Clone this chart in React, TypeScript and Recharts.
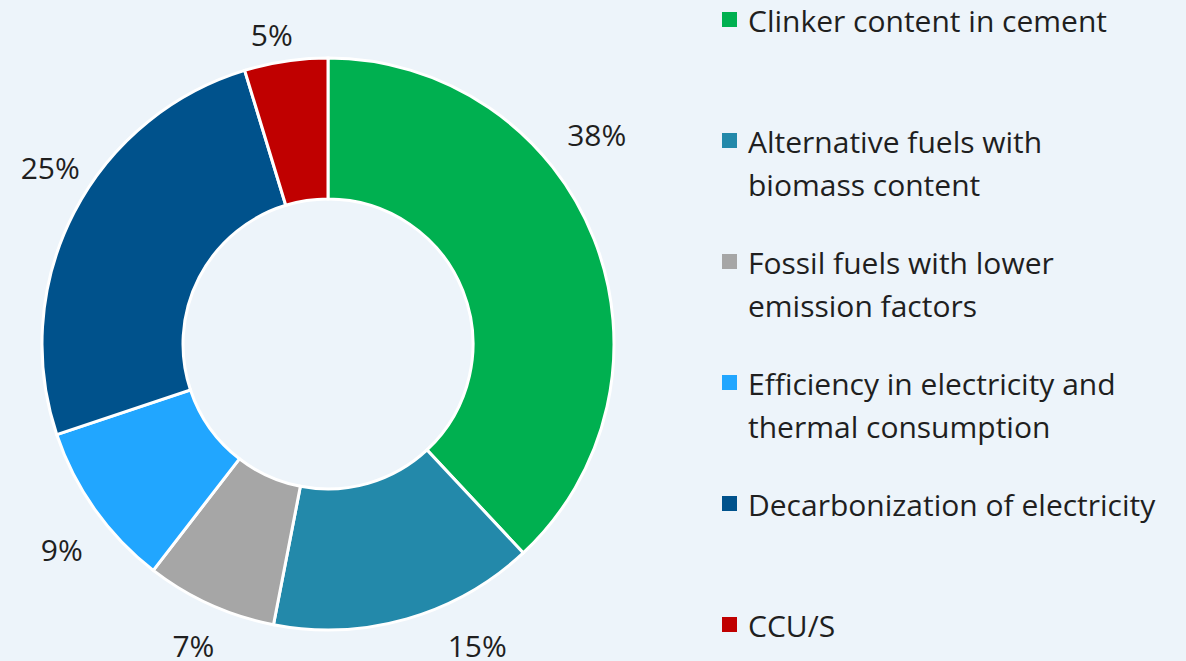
import { PieChart, Pie, Cell, Legend } from "recharts";

// legend text, split where the reference wraps it
const categoryLines = [
  ["Clinker content in cement"],
  ["Alternative fuels with", "biomass content"],
  ["Fossil fuels with lower", "emission factors"],
  ["Efficiency in electricity and", "thermal consumption"],
  ["Decarbonization of electricity"],
  ["CCU/S"],
];
const shares = [38, 15, 7.4, 9.4, 25.4, 4.7];
const colors = ["#00B050", "#2389AA", "#A6A6A6", "#21A6FF", "#00528C", "#C00000"];

// hand-nudged label spots (px), like the moved labels in the original
const labelNudge = [
  [-42, -87],
  [57, -20],
  [3, -3],
  [6, 12],
  [19, -23],
  [-7, 21],
];

const categories = categoryLines.map((l) => l.join(" "));
const data = categories.map((name, i) => ({ name, value: shares[i] }));

const FONT = "'Open Sans', 'Noto Sans', sans-serif";
const BG = "#EDF4FA";
const TEXT = "#1F1F1F";
const RAD = Math.PI / 180;

function renderLabel(props: any) {
  const { cx, cy, midAngle, outerRadius, value, index } = props;
  const r = outerRadius + 48;
  const [dx, dy] = labelNudge[index] ?? [0, 0];
  const x = cx + r * Math.cos(-midAngle * RAD) + dx;
  const y = cy + r * Math.sin(-midAngle * RAD) + dy;
  return (
    <text x={x} y={y} fill={TEXT} fontSize={30} fontFamily={FONT} textAnchor="middle" dominantBaseline="central">
      {Math.round(value)}%
    </text>
  );
}

function LegendList() {
  return (
    <div style={{ fontFamily: FONT, fontSize: 30, color: TEXT, lineHeight: "43px" }}>
      {categoryLines.map((lines, i) => (
        <div key={i} style={{ display: "flex", alignItems: "flex-start", height: 121 }}>
          <span style={{ width: 15, height: 15, background: colors[i], marginTop: 13, marginRight: 11, flex: "none" }} />
          <span style={{ whiteSpace: "nowrap" }}>
            {lines.map((l) => (
              <div key={l}>{l}</div>
            ))}
          </span>
        </div>
      ))}
    </div>
  );
}

export default function App() {
  return (
    <div style={{ position: "absolute", left: 0, top: 0, width: 1186, height: 661, background: BG, overflow: "hidden" }}>
      <PieChart width={1186} height={661} margin={{ top: 0, right: 0, bottom: 0, left: 0 }}>
        <Pie
          data={data}
          dataKey="value"
          nameKey="name"
          cx={328}
          cy={344}
          innerRadius={145}
          outerRadius={286}
          startAngle={90}
          endAngle={-270}
          stroke="#fff"
          strokeWidth={3}
          label={renderLabel}
          labelLine={false}
          isAnimationActive={false}
        >
          {data.map((d, i) => (
            <Cell key={d.name} fill={colors[i]} />
          ))}
        </Pie>
        <Legend
          layout="vertical"
          align="right"
          verticalAlign="top"
          wrapperStyle={{ left: 722, top: -1, width: 464 }}
          content={() => <LegendList />}
        />
      </PieChart>
    </div>
  );
}
